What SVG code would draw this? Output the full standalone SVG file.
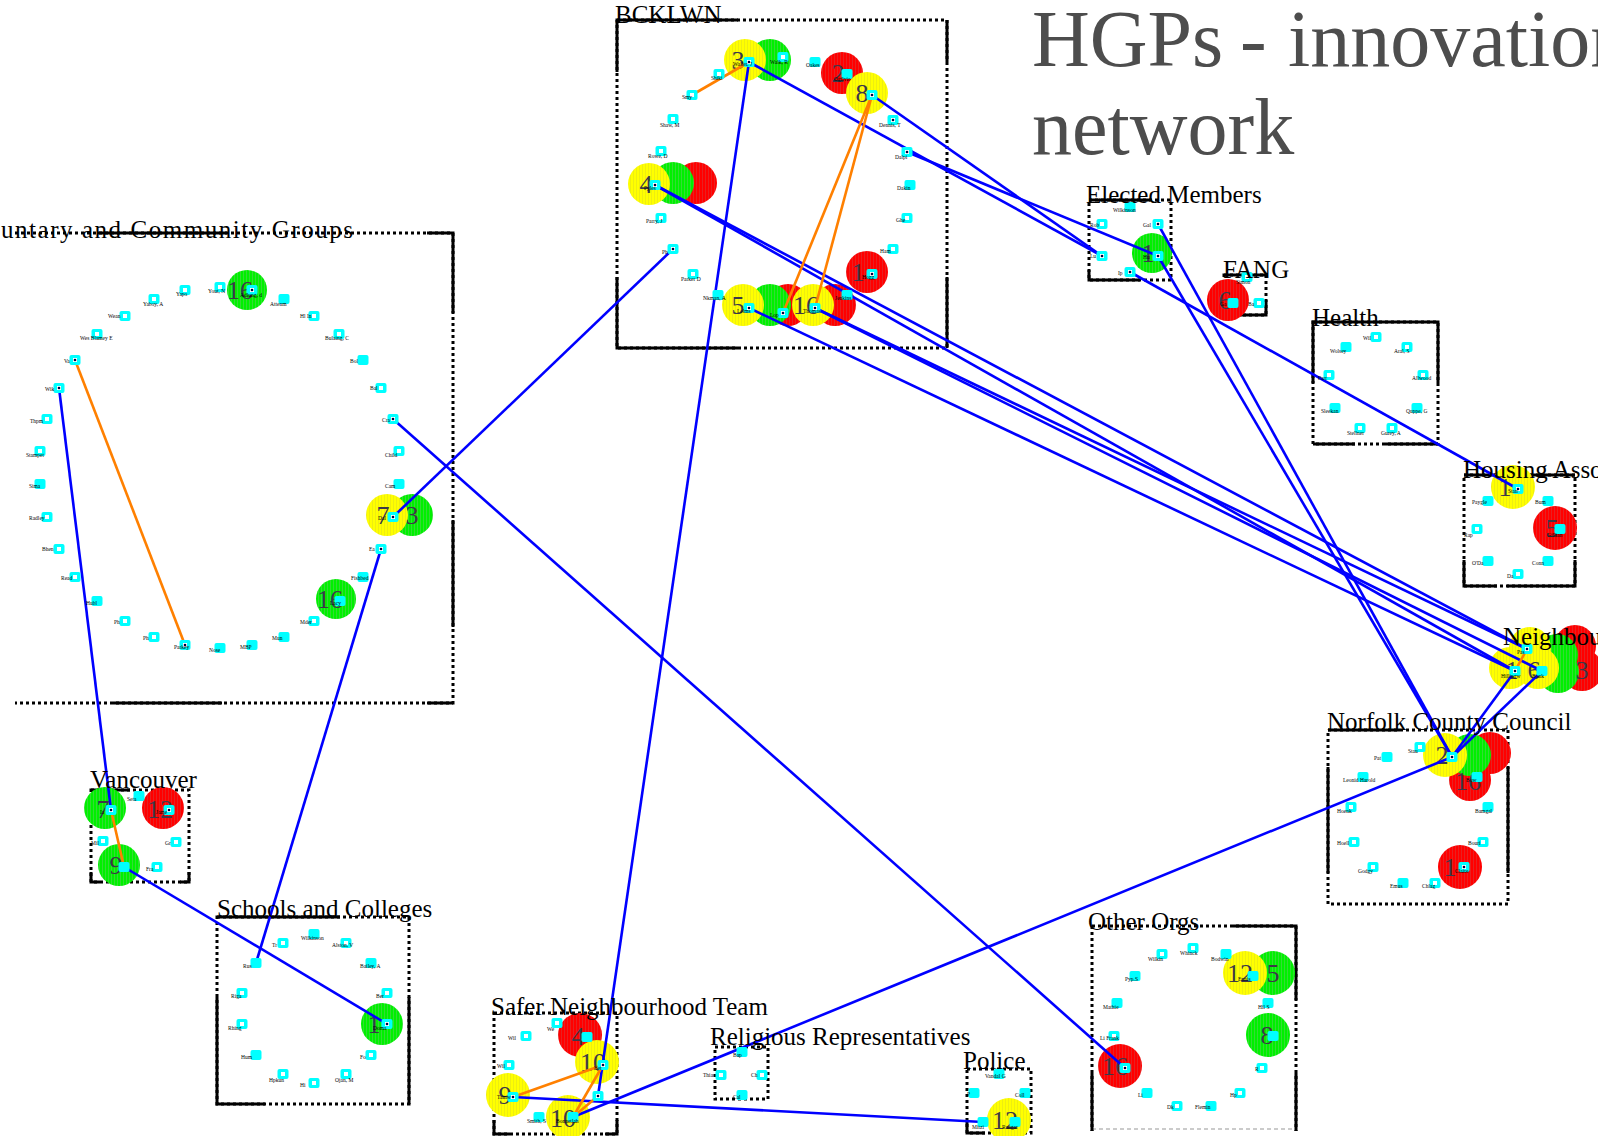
<svg xmlns="http://www.w3.org/2000/svg" xmlns:xlink="http://www.w3.org/1999/xlink" width="1598" height="1136" viewBox="0 0 1598 1136">
<style>
.bd{fill:none;stroke:#000;stroke-width:3;stroke-dasharray:3 3}
.bs{fill:none;stroke:#000;stroke-width:3}
.lb{font-family:"Liberation Serif",serif;font-size:25px;fill:#000}
.t{font-family:"Liberation Serif",serif;font-size:5.5px;fill:#000}
.num{font-family:"Liberation Serif",serif;font-size:26px;fill:#3c3848;text-anchor:middle}
.eb{stroke:#0000ff;stroke-width:2.6;fill:none}
.eo{stroke:#ff8000;stroke-width:2.6;fill:none}
.title{font-family:"Liberation Serif",serif;font-size:80px;fill:#4d4d4d}
</style>
<defs>
<pattern id="pY" width="3" height="4" patternUnits="userSpaceOnUse"><rect width="3" height="4" fill="#ffff00"/><rect width="1" height="4" fill="#eeee10"/></pattern>
<pattern id="pG" width="3" height="4" patternUnits="userSpaceOnUse"><rect width="3" height="4" fill="#00f000"/><rect width="1" height="4" fill="#33dd33"/></pattern>
<pattern id="pR" width="3" height="4" patternUnits="userSpaceOnUse"><rect width="3" height="4" fill="#ff0000"/><rect width="1" height="4" fill="#e82020"/></pattern>
<g id="sq"><rect x="-5.5" y="-5" width="11" height="10" rx="2" fill="#00ffff"/><rect x="-2" y="-2" width="4" height="4" fill="#fff"/></g>
<g id="sqe"><rect x="-5.5" y="-5" width="11" height="10" rx="2" fill="#00ffff"/><rect x="-2" y="-2" width="4" height="4" fill="#fff"/><circle r="1.3" fill="#000040"/></g>
<g id="sqp"><rect x="-5.5" y="-5" width="11" height="10" rx="2" fill="#00ffff"/></g>
</defs>
<rect width="1598" height="1136" fill="#fff"/>

<g id="title">
<text class="title" x="1032" y="66">HGPs</text>
<text class="title" x="1240" y="66">-</text>
<text class="title" x="1288" y="66">innovation</text>
<text class="title" x="1032" y="154">network</text>
</g>

<!-- group boxes -->
<g id="box-bcklwn"><rect class="bd" x="617" y="20" width="330" height="328"/><path class="bs" d="M617,20H738M617,20V72M617,277V348H738M947,20V62M947,277V348"/></g>
<g id="box-vol"><path class="bd" d="M15,233H453V703H15"/><path class="bs" d="M97,233H227M427,233H453V313M453,520V627M113,703H222M427,703H453"/></g>
<g id="box-elected"><rect class="bd" x="1089" y="200" width="82" height="80"/><path class="bs" d="M1089,200H1150M1089,270V280H1140"/></g>
<g id="box-fang"><rect class="bd" x="1224" y="275" width="42" height="40"/><path class="bs" d="M1224,275H1266M1224,300V315H1266V300"/></g>
<g id="box-health"><rect class="bd" x="1313" y="322" width="125" height="122"/><path class="bs" d="M1313,383V322H1438V383M1313,444H1355M1385,444H1438"/></g>
<g id="box-housing"><rect class="bd" x="1464" y="475" width="111" height="111"/><path class="bs" d="M1464,475H1575M1464,560V586H1497M1507,586H1575V560"/></g>
<g id="box-norfolk"><rect class="bd" x="1328" y="730" width="180" height="174"/><path class="bs" d="M1328,730H1400M1328,767V873M1508,767V873"/></g>
<g id="box-vanc"><rect class="bd" x="91" y="790" width="98" height="92"/><path class="bs" d="M91,790H130M91,872V882H100M189,872V882H180"/></g>
<g id="box-schools"><rect class="bd" x="217" y="917" width="192" height="187"/><path class="bs" d="M217,917H340M217,997V1104H265M409,997V1104"/></g>
<g id="box-safer"><rect class="bd" x="494" y="1013" width="123" height="121"/><path class="bs" d="M494,1120V1134H510M617,1120V1134H605"/></g>
<g id="box-relig"><rect class="bd" x="715" y="1047" width="53" height="52"/></g>
<g id="box-police"><rect class="bd" x="967" y="1069" width="64" height="64"/><path class="bs" d="M967,1120V1133H985"/></g>
<g id="box-other"><path class="bd" d="M1092,926H1296V1131M1092,926V1131"/><path d="M1092,1129H1296" stroke="#bbb" stroke-width="1.5" stroke-dasharray="4 3" fill="none"/><path class="bs" d="M1233,926H1296V1000M1092,1073V1131M1296,1073V1131"/></g>

<!-- highlight blobs -->
<g id="blobs">
<circle cx="842" cy="73" r="21" fill="url(#pR)"/>
<circle cx="770" cy="60" r="21" fill="url(#pG)"/>
<circle cx="745" cy="60" r="21" fill="url(#pY)"/>
<circle cx="867" cy="93" r="21" fill="url(#pY)"/>
<circle cx="696" cy="183" r="21" fill="url(#pR)"/>
<circle cx="673" cy="183" r="21" fill="url(#pG)"/>
<circle cx="649" cy="184" r="21" fill="url(#pY)"/>
<circle cx="867" cy="272" r="21" fill="url(#pR)"/>
<circle cx="788" cy="305" r="21" fill="url(#pR)"/>
<circle cx="835" cy="305" r="21" fill="url(#pR)"/>
<circle cx="770" cy="305" r="21" fill="url(#pG)"/>
<circle cx="743" cy="305" r="21" fill="url(#pY)"/>
<circle cx="813" cy="305" r="21" fill="url(#pY)"/>
<circle cx="247" cy="290" r="20" fill="url(#pG)"/>
<circle cx="336" cy="599" r="20" fill="url(#pG)"/>
<circle cx="412" cy="515" r="21" fill="url(#pG)"/>
<circle cx="387" cy="515" r="21" fill="url(#pY)"/>
<circle cx="1152" cy="253" r="20" fill="url(#pG)"/>
<circle cx="1228" cy="300" r="21" fill="url(#pR)"/>
<circle cx="1513" cy="487" r="22" fill="url(#pY)"/>
<circle cx="1555" cy="528" r="22" fill="url(#pR)"/>
<circle cx="1575" cy="646" r="21" fill="url(#pR)"/>
<circle cx="1582" cy="670" r="21" fill="url(#pR)"/>
<circle cx="1557" cy="655" r="21" fill="url(#pG)"/>
<circle cx="1558" cy="672" r="21" fill="url(#pG)"/>
<circle cx="1530" cy="648" r="21" fill="url(#pY)"/>
<circle cx="1538" cy="668" r="21" fill="url(#pY)"/>
<circle cx="1510" cy="668" r="21" fill="url(#pY)"/>
<circle cx="1490" cy="753" r="21" fill="url(#pR)"/>
<circle cx="1470" cy="780" r="21" fill="url(#pR)"/>
<circle cx="1470" cy="755" r="21" fill="url(#pG)"/>
<circle cx="1445" cy="755" r="22" fill="url(#pY)"/>
<circle cx="1460" cy="867" r="22" fill="url(#pR)"/>
<circle cx="105" cy="808" r="21" fill="url(#pG)"/>
<circle cx="163" cy="808" r="21" fill="url(#pR)"/>
<circle cx="119" cy="865" r="21" fill="url(#pG)"/>
<circle cx="382" cy="1024" r="21" fill="url(#pG)"/>
<circle cx="580" cy="1035" r="22" fill="url(#pR)"/>
<circle cx="597" cy="1062" r="22" fill="url(#pY)"/>
<circle cx="508" cy="1095" r="22" fill="url(#pY)"/>
<circle cx="568" cy="1117" r="22" fill="url(#pY)"/>
<circle cx="1009" cy="1120" r="22" fill="url(#pY)"/>
<circle cx="1273" cy="973" r="22" fill="url(#pG)"/>
<circle cx="1245" cy="973" r="22" fill="url(#pY)"/>
<circle cx="1268" cy="1035" r="22" fill="url(#pG)"/>
<circle cx="1120" cy="1066" r="22" fill="url(#pR)"/>
</g>
<g id="blob-numbers">
<text class="num" x="738" y="69">3</text>
<text class="num" x="838" y="82">2</text>
<text class="num" x="862" y="102">8</text>
<text class="num" x="646" y="193">4</text>
<text class="num" x="858" y="281">1</text>
<text class="num" x="738" y="314">5</text>
<text class="num" x="806" y="314">16</text>
<text class="num" x="240" y="299">16</text>
<text class="num" x="330" y="608">16</text>
<text class="num" x="383" y="524">7</text>
<text class="num" x="412" y="524">3</text>
<text class="num" x="1148" y="262">1</text>
<text class="num" x="1225" y="309">6</text>
<text class="num" x="1505" y="496">1</text>
<text class="num" x="1552" y="537">5</text>
<text class="num" x="1512" y="679">1</text>
<text class="num" x="1534" y="679">6</text>
<text class="num" x="1582" y="679">3</text>
<text class="num" x="1442" y="764">2</text>
<text class="num" x="1468" y="790">16</text>
<text class="num" x="1450" y="876">1</text>
<text class="num" x="103" y="818">7</text>
<text class="num" x="160" y="818">12</text>
<text class="num" x="116" y="874">9</text>
<text class="num" x="374" y="1033">1</text>
<text class="num" x="578" y="1045">4</text>
<text class="num" x="593" y="1071">10</text>
<text class="num" x="505" y="1104">9</text>
<text class="num" x="563" y="1127">10</text>
<text class="num" x="1005" y="1129">12</text>
<text class="num" x="1240" y="982">12</text>
<text class="num" x="1273" y="982">5</text>
<text class="num" x="1267" y="1044">8</text>
<text class="num" x="1115" y="1075">16</text>
</g>

<g id="connectors">
<path class="eb" d="M749,62L598,1096"/>
<path class="eb" d="M749,62L1102,256"/>
<path class="eb" d="M872,95L1102,256"/>
<path class="eb" d="M907,152L1158,256"/>
<path class="eb" d="M673,249L393,517"/>
<path class="eb" d="M655,185L1527,649"/>
<path class="eb" d="M655,185L1515,671"/>
<path class="eb" d="M749,308L1515,671"/>
<path class="eb" d="M815,308L1527,649"/>
<path class="eb" d="M815,308L1542,671"/>
<path class="eb" d="M1158,224L1452,757"/>
<path class="eb" d="M1158,256L1452,757"/>
<path class="eb" d="M1130,272L1518,489"/>
<path class="eb" d="M1515,671L1452,757"/>
<path class="eb" d="M1542,671L1452,757"/>
<path class="eb" d="M1452,757L573,1117"/>
<path class="eb" d="M513,1097L983,1122"/>
<path class="eb" d="M393,419L1125,1068"/>
<path class="eb" d="M381,549L256,963"/>
<path class="eb" d="M59,388L111,810"/>
<path class="eb" d="M124,867L387,1024"/>
<path class="eo" d="M692,95L749,62"/>
<path class="eo" d="M872,95L783,313"/>
<path class="eo" d="M872,95L815,308"/>
<path class="eo" d="M75,360L185,645"/>
<path class="eo" d="M111,810L124,867"/>
<path class="eo" d="M513,1097L603,1065"/>
<path class="eo" d="M573,1117L603,1065"/>
<path class="eo" d="M573,1117L598,1096"/>
<path class="eo" d="M1527,649L1515,671"/>
</g>

<!-- BCKLWN nodes -->
<g id="b1"><use href="#sqe" x="749" y="62"/><text class="t" x="733" y="66">Waller, J</text></g>
<g id="b2"><use href="#sq" x="783" y="57"/><text class="t" x="770" y="64">Walk, R</text></g>
<g id="b3"><use href="#sq" x="719" y="74"/><text class="t" x="711" y="80">Shiki</text></g>
<g id="b4"><use href="#sq" x="692" y="95"/><text class="t" x="682" y="99">Smy</text></g>
<g id="b5"><use href="#sq" x="673" y="119"/><text class="t" x="660" y="127">Shaw, M</text></g>
<g id="b6"><use href="#sq" x="661" y="151"/><text class="t" x="648" y="158">Rowe, D</text></g>
<g id="b7"><use href="#sqp" x="815" y="62"/><text class="t" x="806" y="67">Oakes</text></g>
<g id="b8"><use href="#sqp" x="847" y="74"/><text class="t" x="834" y="81">Ogilvie</text></g>
<g id="b9"><use href="#sqe" x="872" y="95"/></g>
<g id="b10"><use href="#sqe" x="893" y="120"/><text class="t" x="879" y="127">Dennis, T</text></g>
<g id="b11"><use href="#sqe" x="907" y="152"/><text class="t" x="895" y="159">Dalpi</text></g>
<g id="b12"><use href="#sqp" x="910" y="185"/><text class="t" x="897" y="190">Dakin</text></g>
<g id="b13"><use href="#sq" x="907" y="218"/><text class="t" x="896" y="222">Ghe</text></g>
<g id="b14"><use href="#sq" x="893" y="249"/><text class="t" x="880" y="253">Ham</text></g>
<g id="b15"><use href="#sqe" x="872" y="274"/><text class="t" x="862" y="279">Hogg</text></g>
<g id="b16"><use href="#sqp" x="847" y="295"/><text class="t" x="835" y="300">Jenkins</text></g>
<g id="b17"><use href="#sqe" x="815" y="308"/><text class="t" x="803" y="313">Thomas</text></g>
<g id="b18"><use href="#sqe" x="783" y="313"/><text class="t" x="770" y="317">Lop</text></g>
<g id="b19"><use href="#sqe" x="749" y="308"/><text class="t" x="737" y="313">Lelms</text></g>
<g id="b20"><use href="#sqp" x="718" y="295"/><text class="t" x="703" y="300">Nkman, A</text></g>
<g id="b21"><use href="#sq" x="693" y="274"/><text class="t" x="681" y="281">Parker D</text></g>
<g id="b22"><use href="#sqe" x="673" y="249"/><text class="t" x="662" y="254">Ph</text></g>
<g id="b23"><use href="#sq" x="661" y="218"/><text class="t" x="646" y="223">Parry, J</text></g>
<g id="b24"><use href="#sqe" x="655" y="185"/><text class="t" x="644" y="190">Pyles</text></g>

<!-- Voluntary nodes -->
<g id="v1"><use href="#sqe" x="252" y="290"/><text class="t" x="240" y="297">Adlung, d</text></g>
<g id="v2"><use href="#sq" x="220" y="287"/><text class="t" x="208" y="293">Yout, N</text></g>
<g id="v3"><use href="#sq" x="185" y="290"/><text class="t" x="176" y="296">Yapo</text></g>
<g id="v4"><use href="#sq" x="154" y="299"/><text class="t" x="143" y="306">Yaboy, A</text></g>
<g id="v5"><use href="#sq" x="125" y="316"/><text class="t" x="108" y="318">Wean</text></g>
<g id="v6"><use href="#sq" x="97" y="334"/><text class="t" x="80" y="340">Wes Blamey E</text></g>
<g id="v7"><use href="#sqe" x="75" y="360"/><text class="t" x="64" y="363">Va</text></g>
<g id="v8"><use href="#sqe" x="59" y="388"/><text class="t" x="45" y="391">Wik</text></g>
<g id="v9"><use href="#sq" x="47" y="419"/><text class="t" x="30" y="423">Thpm</text></g>
<g id="v10"><use href="#sq" x="40" y="451"/><text class="t" x="26" y="457">Stampet</text></g>
<g id="v11"><use href="#sqp" x="40" y="484"/><text class="t" x="29" y="488">Sima</text></g>
<g id="v12"><use href="#sq" x="47" y="517"/><text class="t" x="29" y="520">Radley</text></g>
<g id="v13"><use href="#sq" x="59" y="549"/><text class="t" x="42" y="551">Bhen</text></g>
<g id="v14"><use href="#sq" x="75" y="577"/><text class="t" x="61" y="580">Read</text></g>
<g id="v15"><use href="#sqp" x="97" y="601"/><text class="t" x="86" y="605">Hubl</text></g>
<g id="v16"><use href="#sq" x="125" y="621"/><text class="t" x="114" y="624">Ph</text></g>
<g id="v17"><use href="#sq" x="154" y="637"/><text class="t" x="143" y="640">Ph</text></g>
<g id="v18"><use href="#sqe" x="185" y="645"/><text class="t" x="174" y="649">Parkey</text></g>
<g id="v19"><use href="#sqp" x="220" y="648"/><text class="t" x="209" y="652">Nose</text></g>
<g id="v20"><use href="#sqp" x="252" y="645"/><text class="t" x="240" y="649">MBP</text></g>
<g id="v21"><use href="#sqp" x="284" y="637"/><text class="t" x="272" y="640">Mun</text></g>
<g id="v22"><use href="#sq" x="314" y="621"/><text class="t" x="300" y="624">Mder</text></g>
<g id="v23"><use href="#sqp" x="340" y="601"/><text class="t" x="330" y="605">Lacy</text></g>
<g id="v24"><use href="#sqp" x="363" y="577"/><text class="t" x="351" y="580">Fishbed</text></g>
<g id="v25"><use href="#sqe" x="381" y="549"/><text class="t" x="369" y="551">Ea</text></g>
<g id="v26"><use href="#sqe" x="393" y="517"/><text class="t" x="378" y="520">Dal</text></g>
<g id="v27"><use href="#sqp" x="399" y="484"/><text class="t" x="385" y="488">Cam</text></g>
<g id="v28"><use href="#sq" x="399" y="451"/><text class="t" x="385" y="457">Child</text></g>
<g id="v29"><use href="#sqe" x="393" y="419"/><text class="t" x="382" y="422">Cra</text></g>
<g id="v30"><use href="#sq" x="381" y="388"/><text class="t" x="370" y="390">Bal</text></g>
<g id="v31"><use href="#sqp" x="363" y="360"/><text class="t" x="350" y="363">Bol</text></g>
<g id="v32"><use href="#sq" x="339" y="334"/><text class="t" x="325" y="340">Bulaing, C</text></g>
<g id="v33"><use href="#sq" x="314" y="316"/><text class="t" x="300" y="318">Hl In</text></g>
<g id="v34"><use href="#sqp" x="284" y="299"/><text class="t" x="270" y="306">Attenm</text></g>

<!-- Elected -->
<g id="e1"><use href="#sqp" x="1130" y="207"/><text class="t" x="1113" y="212">Wilkinson</text></g>
<g id="e2"><use href="#sq" x="1102" y="224"/><text class="t" x="1090" y="227">Rob</text></g>
<g id="e3"><use href="#sqe" x="1158" y="224"/><text class="t" x="1143" y="227">Gal</text></g>
<g id="e4"><use href="#sqe" x="1102" y="256"/><text class="t" x="1090" y="258">Lu</text></g>
<g id="e5"><use href="#sqe" x="1158" y="256"/><text class="t" x="1143" y="259">Hu</text></g>
<g id="e6"><use href="#sqe" x="1130" y="272"/><text class="t" x="1118" y="275">Ip</text></g>
<!-- FANG -->
<g id="f1"><use href="#sq" x="1247" y="277"/><text class="t" x="1236" y="284">Simon</text></g>
<g id="f2"><use href="#sqp" x="1233" y="303"/><text class="t" x="1220" y="306">Ga</text></g>
<g id="f3"><use href="#sq" x="1259" y="303"/><text class="t" x="1248" y="306">Ba</text></g>
<!-- Health -->
<g id="h1"><use href="#sq" x="1376" y="337"/><text class="t" x="1363" y="340">Wil</text></g>
<g id="h2"><use href="#sqp" x="1346" y="347"/><text class="t" x="1330" y="353">Wolsey</text></g>
<g id="h3"><use href="#sq" x="1407" y="347"/><text class="t" x="1394" y="353">Aral, S</text></g>
<g id="h4"><use href="#sq" x="1329" y="375"/><text class="t" x="1318" y="380">Parr</text></g>
<g id="h5"><use href="#sq" x="1423" y="375"/><text class="t" x="1412" y="380">Allwood</text></g>
<g id="h6"><use href="#sqp" x="1335" y="408"/><text class="t" x="1321" y="413">Sleekan</text></g>
<g id="h7"><use href="#sqp" x="1417" y="408"/><text class="t" x="1406" y="413">Quppe, G</text></g>
<g id="h8"><use href="#sq" x="1360" y="428"/><text class="t" x="1347" y="435">Stellner</text></g>
<g id="h9"><use href="#sq" x="1392" y="428"/><text class="t" x="1381" y="435">Gurey, A</text></g>
<!-- Housing -->
<g id="ha1"><use href="#sqe" x="1518" y="489"/><text class="t" x="1508" y="493">Stan</text></g>
<g id="ha2"><use href="#sqp" x="1488" y="501"/><text class="t" x="1472" y="504">Paygle</text></g>
<g id="ha3"><use href="#sqp" x="1548" y="501"/><text class="t" x="1535" y="504">Bum</text></g>
<g id="ha4"><use href="#sq" x="1477" y="529"/><text class="t" x="1464" y="537">Rap</text></g>
<g id="ha5"><use href="#sqp" x="1560" y="529"/><text class="t" x="1547" y="537">Gillian</text></g>
<g id="ha6"><use href="#sqp" x="1488" y="561"/><text class="t" x="1472" y="565">O'Da</text></g>
<g id="ha7"><use href="#sqp" x="1548" y="561"/><text class="t" x="1532" y="565">Conn</text></g>
<g id="ha8"><use href="#sq" x="1518" y="574"/><text class="t" x="1507" y="578">Da</text></g>
<!-- Neighbourhood -->
<g id="nb1"><use href="#sqe" x="1527" y="649"/><text class="t" x="1517" y="654">Pas</text></g>
<g id="nb2"><use href="#sqe" x="1515" y="671"/><text class="t" x="1501" y="678">Hillingw</text></g>
<g id="nb3"><use href="#sqp" x="1542" y="671"/><text class="t" x="1532" y="678">Bonk</text></g>
<!-- Norfolk -->
<g id="nc1"><use href="#sqe" x="1452" y="757"/></g>
<g id="nc2"><use href="#sq" x="1420" y="747"/><text class="t" x="1408" y="753">Stau</text></g>
<g id="nc3"><use href="#sqp" x="1387" y="757"/><text class="t" x="1374" y="760">Pat</text></g>
<g id="nc4"><use href="#sqp" x="1363" y="777"/><text class="t" x="1343" y="782">Leonid Harold</text></g>
<g id="nc5"><use href="#sqp" x="1477" y="777"/><text class="t" x="1466" y="782">Bow</text></g>
<g id="nc6"><use href="#sq" x="1351" y="807"/><text class="t" x="1337" y="813">Hoenk</text></g>
<g id="nc7"><use href="#sqp" x="1488" y="807"/><text class="t" x="1475" y="813">Bamgal</text></g>
<g id="nc8"><use href="#sq" x="1354" y="842"/><text class="t" x="1337" y="845">Hoell</text></g>
<g id="nc9"><use href="#sq" x="1483" y="842"/><text class="t" x="1468" y="845">Bouri</text></g>
<g id="nc10"><use href="#sq" x="1373" y="867"/><text class="t" x="1358" y="873">Godgy</text></g>
<g id="nc11"><use href="#sqe" x="1464" y="867"/><text class="t" x="1455" y="873">Claire</text></g>
<g id="nc12"><use href="#sqp" x="1403" y="883"/><text class="t" x="1390" y="888">Emus</text></g>
<g id="nc13"><use href="#sq" x="1435" y="883"/><text class="t" x="1422" y="888">Chlag</text></g>
<!-- Vancouver -->
<g id="va1"><use href="#sqe" x="111" y="810"/><text class="t" x="100" y="814">Ia</text></g>
<g id="va2"><use href="#sqe" x="169" y="810"/><text class="t" x="156" y="814">Jame</text></g>
<g id="va3"><use href="#sqp" x="139" y="796"/><text class="t" x="127" y="801">Seta</text></g>
<g id="va4"><use href="#sq" x="103" y="841"/><text class="t" x="91" y="845">Mil</text></g>
<g id="va5"><use href="#sq" x="176" y="842"/><text class="t" x="165" y="845">Gr</text></g>
<g id="va6"><use href="#sqp" x="124" y="867"/></g>
<g id="va7"><use href="#sq" x="157" y="867"/><text class="t" x="146" y="871">Fra</text></g>
<!-- Schools -->
<g id="s1"><use href="#sqp" x="314" y="934"/><text class="t" x="301" y="940">Wilkinson</text></g>
<g id="s2"><use href="#sq" x="283" y="943"/><text class="t" x="272" y="947">Tr</text></g>
<g id="s3"><use href="#sq" x="346" y="943"/><text class="t" x="332" y="947">Alston, V</text></g>
<g id="s4"><use href="#sqp" x="256" y="963"/><text class="t" x="243" y="968">Rus</text></g>
<g id="s5"><use href="#sqp" x="371" y="963"/><text class="t" x="360" y="968">Bailey, A</text></g>
<g id="s6"><use href="#sq" x="242" y="993"/><text class="t" x="231" y="998">Riga</text></g>
<g id="s7"><use href="#sq" x="387" y="993"/><text class="t" x="376" y="998">Ber</text></g>
<g id="s8"><use href="#sq" x="242" y="1024"/><text class="t" x="228" y="1030">Rhing</text></g>
<g id="s9"><use href="#sqe" x="387" y="1024"/><text class="t" x="373" y="1030">Doma</text></g>
<g id="s10"><use href="#sqp" x="256" y="1055"/><text class="t" x="241" y="1059">Hum</text></g>
<g id="s11"><use href="#sq" x="371" y="1055"/><text class="t" x="360" y="1059">Fo</text></g>
<g id="s12"><use href="#sq" x="283" y="1074"/><text class="t" x="269" y="1082">Hpkun</text></g>
<g id="s13"><use href="#sq" x="346" y="1074"/><text class="t" x="335" y="1082">Ojan, M</text></g>
<g id="s14"><use href="#sq" x="314" y="1083"/><text class="t" x="300" y="1087">Hi</text></g>
<!-- Safer Neighbourhood -->
<g id="sn1"><use href="#sq" x="557" y="1023"/><text class="t" x="547" y="1031">We</text></g>
<g id="sn2"><use href="#sqp" x="587" y="1037"/></g>
<g id="sn3"><use href="#sq" x="526" y="1036"/><text class="t" x="508" y="1040">Wil</text></g>
<g id="sn4"><use href="#sqe" x="603" y="1065"/><text class="t" x="594" y="1070">Bet</text></g>
<g id="sn5"><use href="#sq" x="509" y="1065"/><text class="t" x="497" y="1068">Wil</text></g>
<g id="sn6"><use href="#sqe" x="513" y="1097"/><text class="t" x="497" y="1099">Tamw</text></g>
<g id="sn7"><use href="#sqe" x="598" y="1096"/></g>
<g id="sn8"><use href="#sqp" x="573" y="1117"/><text class="t" x="556" y="1123">Bonnetlah</text></g>
<g id="sn9"><use href="#sqp" x="539" y="1117"/><text class="t" x="527" y="1123">Smith, S</text></g>
<!-- Religious -->
<g id="r1"><use href="#sqp" x="742" y="1052"/><text class="t" x="733" y="1057">Bap</text></g>
<g id="r2"><use href="#sq" x="721" y="1075"/><text class="t" x="703" y="1077">Thia</text></g>
<g id="r3"><use href="#sq" x="762" y="1075"/><text class="t" x="751" y="1077">Ch</text></g>
<g id="r4"><use href="#sqp" x="742" y="1095"/><text class="t" x="733" y="1099">Cal</text></g>
<!-- Police -->
<g id="p1"><use href="#sqp" x="999" y="1074"/><text class="t" x="985" y="1078">Vandal G</text></g>
<g id="p2"><use href="#sqp" x="974" y="1093"/><text class="t" x="967" y="1096">P</text></g>
<g id="p3"><use href="#sqp" x="1025" y="1093"/><text class="t" x="1015" y="1097">Coll</text></g>
<g id="p4"><use href="#sqp" x="983" y="1122"/><text class="t" x="972" y="1129">Mitzi</text></g>
<g id="p5"><use href="#sqp" x="1015" y="1122"/><text class="t" x="1002" y="1129">Rangar</text></g>
<!-- Other Orgs -->
<g id="o1"><use href="#sq" x="1162" y="954"/><text class="t" x="1148" y="961">Wilkin</text></g>
<g id="o2"><use href="#sq" x="1193" y="948"/><text class="t" x="1180" y="955">Whinck</text></g>
<g id="o3"><use href="#sqp" x="1226" y="954"/><text class="t" x="1211" y="961">Bodwin</text></g>
<g id="o4"><use href="#sqp" x="1253" y="976"/><text class="t" x="1238" y="981">Ennis</text></g>
<g id="o5"><use href="#sqp" x="1135" y="976"/><text class="t" x="1125" y="981">Pyp.S</text></g>
<g id="o6"><use href="#sqp" x="1117" y="1003"/><text class="t" x="1103" y="1009">Mathie</text></g>
<g id="o7"><use href="#sqp" x="1268" y="1003"/><text class="t" x="1258" y="1009">Hil S</text></g>
<g id="o8"><use href="#sq" x="1114" y="1036"/><text class="t" x="1100" y="1040">Li Frank</text></g>
<g id="o9"><use href="#sqp" x="1273" y="1036"/></g>
<g id="o10"><use href="#sqe" x="1125" y="1068"/></g>
<g id="o11"><use href="#sq" x="1262" y="1068"/><text class="t" x="1255" y="1071">R</text></g>
<g id="o12"><use href="#sqp" x="1147" y="1093"/><text class="t" x="1138" y="1097">Li</text></g>
<g id="o13"><use href="#sq" x="1240" y="1093"/><text class="t" x="1230" y="1097">Hp</text></g>
<g id="o14"><use href="#sq" x="1177" y="1106"/><text class="t" x="1167" y="1109">Dk</text></g>
<g id="o15"><use href="#sqp" x="1211" y="1106"/><text class="t" x="1195" y="1109">Flemin</text></g>

<!-- group labels -->
<g id="labels">
<text class="lb" x="-38" y="238" textLength="391" lengthAdjust="spacing">Voluntary and Community Groups</text>
<text class="lb" x="615" y="23">BCKLWN</text>
<text class="lb" x="1086" y="203">Elected Members</text>
<text class="lb" x="1223" y="278">FANG</text>
<text class="lb" x="1312" y="326">Health</text>
<text class="lb" x="1463" y="478">Housing Associations</text>
<text class="lb" x="1503" y="645">Neighbourhood</text>
<text class="lb" x="1327" y="730">Norfolk County Council</text>
<text class="lb" x="90" y="788">Vancouver</text>
<text class="lb" x="217" y="917">Schools and Colleges</text>
<text class="lb" x="491" y="1015">Safer Neighbourhood Team</text>
<text class="lb" x="710" y="1045">Religious Representatives</text>
<text class="lb" x="963" y="1069">Police</text>
<text class="lb" x="1088" y="930">Other Orgs</text>
</g>
</svg>
